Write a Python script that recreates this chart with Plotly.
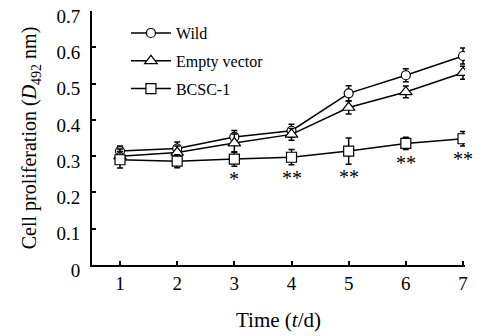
import plotly.graph_objects as go

days = [1, 2, 3, 4, 5, 6, 7]
wild = [0.314, 0.321, 0.353, 0.370, 0.473, 0.523, 0.576]
wild_err = [0.014, 0.018, 0.018, 0.018, 0.021, 0.018, 0.022]
empty = [0.300, 0.310, 0.336, 0.360, 0.434, 0.477, 0.530]
empty_err = [0.020, 0.018, 0.025, 0.016, 0.018, 0.016, 0.018]
bcsc = [0.290, 0.286, 0.292, 0.297, 0.314, 0.335, 0.348]
bcsc_err = [0.023, 0.018, 0.020, 0.021, 0.036, 0.017, 0.020]
signif = ["", "", "*", "**", "**", "**", "**"]
y_ticks = [0, 0.1, 0.2, 0.3, 0.4, 0.5, 0.6, 0.7]

FONT = "Liberation Serif, Times New Roman, serif"

fig = go.Figure()

def add(name, ys, errs, symbol, size, group):
    fig.add_trace(go.Scatter(
        x=days, y=ys, name=name, mode="lines+markers", legendgroup=group,
        line=dict(color="black", width=1.5),
        marker=dict(symbol=symbol, size=size, color="white",
                    line=dict(color="black", width=1.2)),
        error_y=dict(type="data", array=errs, visible=True,
                     color="black", thickness=1.5, width=3),
    ))

add("Wild", wild, wild_err, "circle", 9, "g1")
add("Empty vector", empty, empty_err, "triangle-up", 11, "g2")
add("BCSC-1", bcsc, bcsc_err, "square", 10, "g3")

for d, v, e, s in zip(days, bcsc, bcsc_err, signif):
    if s:
        fig.add_annotation(x=d, y=v - e, text=s, showarrow=False,
                           yanchor="top", yshift=0,
                           font=dict(family=FONT, size=20, color="black"))

# page body has an 8px margin, so the figure is sized to the visible window
fig.update_layout(
    width=474, height=328,
    margin=dict(l=84, r=17, t=3, b=71),
    paper_bgcolor="white", plot_bgcolor="white",
    font=dict(family=FONT, size=19, color="black"),
    showlegend=True,
    legend=dict(x=0.091, y=0.98, xanchor="left", yanchor="top",
                bgcolor="rgba(0,0,0,0)", font=dict(family=FONT, size=16),
                itemwidth=40, tracegroupgap=4),
    xaxis=dict(range=[0.51, 7.035], tickvals=days, ticks="inside",
               ticklen=4, tickwidth=1.5, tickcolor="black",
               showline=True, linecolor="black", linewidth=2,
               showgrid=False, zeroline=False, automargin=False,
               ticklabeloverflow="allow",
               tickfont=dict(family=FONT, size=19),
               title=dict(text="Time (<i>t</i>/d)", standoff=20,
                          font=dict(family=FONT, size=21))),
    yaxis=dict(range=[0, 0.7], tickvals=y_ticks,
               ticktext=[("%g" % t) for t in y_ticks],
               ticks="inside", ticklen=4, tickwidth=1.5, tickcolor="black",
               showline=True, linecolor="black", linewidth=2,
               showgrid=False, zeroline=False, automargin=False,
               ticklabelstandoff=6, ticklabelshift=5,
               ticklabeloverflow="allow",
               tickfont=dict(family=FONT, size=19),
               title=dict(text="Cell proliferation (<i>D</i><sub>492</sub> nm)",
                          standoff=14, font=dict(family=FONT, size=20))),
)

fig.write_html("out.html")
